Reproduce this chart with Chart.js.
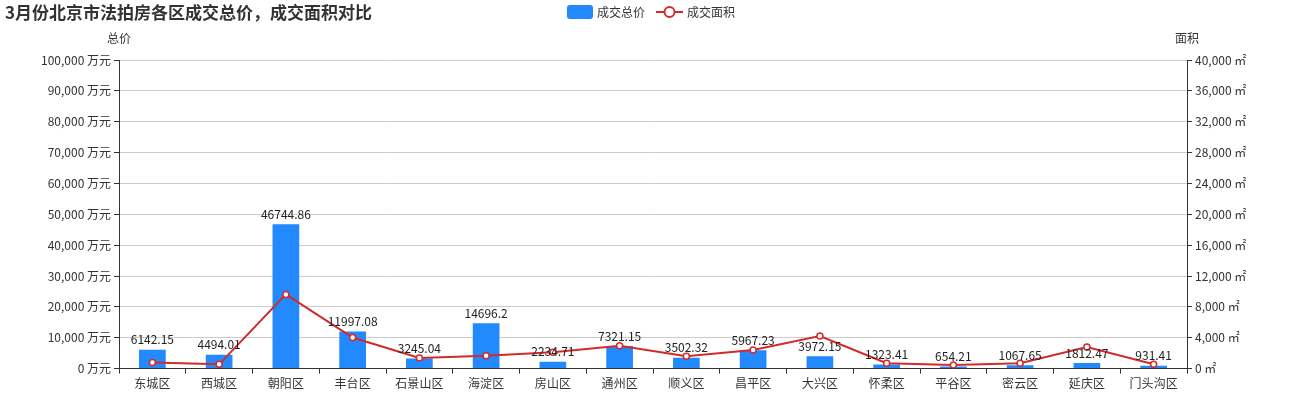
<!DOCTYPE html>
<html>
<head>
<meta charset="utf-8">
<script src="https://cdn.jsdelivr.net/npm/chart.js"></script>
<style>
  html, body { margin: 0; padding: 0; background: #fff; }
  #wrap { width: 1300px; height: 400px; }
</style>
</head>
<body>
<div id="wrap"><canvas id="areaChart"></canvas></div>
<script>
// Datos del gráfico
const districts = ['东城区', '西城区', '朝阳区', '丰台区', '石景山区', '海淀区', '房山区', '通州区',
                   '顺义区', '昌平区', '大兴区', '怀柔区', '平谷区', '密云区', '延庆区', '门头沟区'];
const totalPrice = [6142.15, 4494.01, 46744.86, 11997.08, 3245.04, 14696.2, 2234.71, 7321.15,
                    3502.32, 5967.23, 3972.15, 1323.41, 654.21, 1067.65, 1812.47, 931.41];
const totalArea = [800, 550, 9620, 4030, 1390, 1650, 2120, 2950,
                   1590, 2410, 4220, 690, 480, 690, 2800, 560];
const priceMax = 100000;
const priceStep = 10000;
const areaMax = 40000;
const areaStep = 4000;

const FONT = '"Noto Sans CJK SC", "Noto Sans", sans-serif';
const BLUE = '#2389ff';
const RED = '#d32a2a';

Chart.defaults.font.family = FONT;
Chart.defaults.font.size = 12;
Chart.defaults.color = '#333';

// Título, leyenda, títulos de ejes y etiquetas de barras
const decorPlugin = {
    id: 'decor',
    afterDraw(chart) {
        const ctx = chart.ctx;
        const area = chart.chartArea;
        ctx.save();

        ctx.fillStyle = '#333';
        ctx.font = 'bold 17px ' + FONT;
        ctx.textAlign = 'left';
        ctx.textBaseline = 'middle';
        ctx.fillText('3月份北京市法拍房各区成交总价，成交面积对比', 5, 13);

        // leyenda
        ctx.font = '12px ' + FONT;
        ctx.fillStyle = BLUE;
        ctx.beginPath();
        ctx.roundRect(567, 5, 26, 14, 3);
        ctx.fill();
        ctx.fillStyle = '#333';
        ctx.fillText('成交总价', 597, 12);
        ctx.strokeStyle = RED;
        ctx.lineWidth = 2;
        ctx.beginPath();
        ctx.moveTo(656, 12);
        ctx.lineTo(683, 12);
        ctx.stroke();
        ctx.fillStyle = '#fff';
        ctx.beginPath();
        ctx.arc(669.5, 12, 5, 0, Math.PI * 2);
        ctx.fill();
        ctx.stroke();
        ctx.fillStyle = '#333';
        ctx.fillText('成交面积', 687, 12);

        // títulos de ejes
        ctx.textAlign = 'center';
        ctx.fillText('总价', area.left, 38);
        ctx.fillText('面积', area.right, 38);

        // etiquetas sobre las barras (dataset 1 = barras)
        ctx.fillStyle = '#222';
        ctx.textBaseline = 'bottom';
        chart.getDatasetMeta(1).data.forEach(function(bar, i) {
            ctx.fillText(String(totalPrice[i]), bar.x, bar.y - 4);
        });
        ctx.restore();
    }
};

const config = {
    data: {
        labels: districts,
        datasets: [
            {
                type: 'line',
                label: '成交面积',
                data: totalArea,
                yAxisID: 'y1',
                borderColor: RED,
                borderWidth: 2,
                pointRadius: 3,
                pointBorderWidth: 1.5,
                pointBackgroundColor: '#fff',
                pointBorderColor: RED,
                tension: 0,
                order: 0
            },
            {
                type: 'bar',
                label: '成交总价',
                data: totalPrice,
                yAxisID: 'y',
                backgroundColor: BLUE,
                barPercentage: 0.4,
                categoryPercentage: 1,
                order: 1
            }
        ]
    },
    options: {
        responsive: true,
        maintainAspectRatio: false,
        animation: false,
        layout: { padding: { top: 60, bottom: 6 } },
        plugins: {
            legend: { display: false },
            title: { display: false },
            tooltip: { enabled: false }
        },
        scales: {
            x: {
                offset: true,
                grid: { offset: true, drawOnChartArea: false, tickLength: 5, tickColor: '#333' },
                border: { color: '#333' },
                ticks: { color: '#333', padding: 3 }
            },
            y: {
                position: 'left',
                min: 0,
                max: priceMax,
                ticks: {
                    stepSize: priceStep,
                    color: '#333',
                    padding: 3,
                    callback: function(v) { return v.toLocaleString('en-US') + ' 万元'; }
                },
                grid: { color: '#ccc', tickColor: '#333', tickLength: 5 },
                border: { color: '#333' },
                afterFit: function(s) { s.width = 119; }
            },
            y1: {
                position: 'right',
                min: 0,
                max: areaMax,
                ticks: {
                    stepSize: areaStep,
                    color: '#333',
                    padding: 3,
                    callback: function(v) { return v.toLocaleString('en-US') + ' ㎡'; }
                },
                grid: { drawOnChartArea: false, tickColor: '#333', tickLength: 5 },
                border: { color: '#333' },
                afterFit: function(s) { s.width = 113; }
            }
        }
    },
    plugins: [decorPlugin]
};

new Chart(document.getElementById('areaChart'), config);
</script>
</body>
</html>
